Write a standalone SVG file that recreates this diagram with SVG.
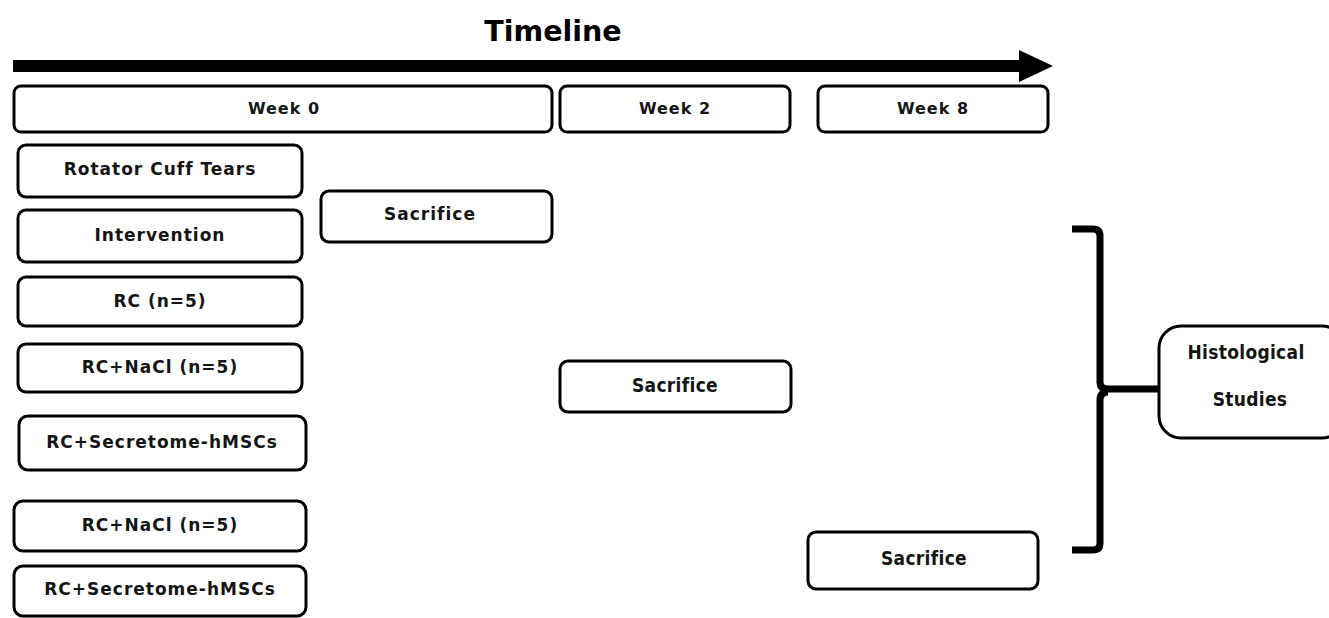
<svg xmlns="http://www.w3.org/2000/svg" width="1329" height="618" viewBox="0 0 1329 618">
<style>
.box{fill:#fff;stroke:#000;stroke-width:3}
.t{font-family:"DejaVu Sans","Liberation Sans",sans-serif;font-weight:bold;font-size:17px;letter-spacing:1px;text-anchor:middle;fill:#151515}
.w{font-family:"DejaVu Sans","Liberation Sans",sans-serif;font-weight:bold;font-size:16px;letter-spacing:1px;text-anchor:middle;fill:#151515}
.c{font-family:"DejaVu Sans Condensed","DejaVu Sans",sans-serif;font-weight:bold;font-size:19px;letter-spacing:0.3px;text-anchor:middle;fill:#151515}
</style>
<rect width="1329" height="618" fill="#fff"/>
<text x="553" y="41" font-family="DejaVu Sans, sans-serif" font-weight="bold" font-size="28.5" text-anchor="middle" fill="#000">Timeline</text>
<g id="connectors">
<rect x="13" y="60" width="1010" height="12" fill="#000"/>
<polygon points="1019,50 1053,66 1019,82" fill="#000"/>
<path d="M1072,229 H1093 Q1100,229 1100,236 V382 Q1100,389 1108,389 H1158 M1108,392 Q1100,392 1100,400 V543 Q1100,550 1093,550 H1072" fill="none" stroke="#000" stroke-width="7"/>
</g>
<g id="week0"><rect class="box" x="14" y="86" width="538" height="46" rx="7"/><text class="w" x="284" y="114">Week 0</text></g>
<g id="week2"><rect class="box" x="560" y="86" width="230" height="46" rx="7"/><text class="w" x="675" y="114">Week 2</text></g>
<g id="week8"><rect class="box" x="818" y="86" width="230" height="46" rx="7"/><text class="w" x="933" y="114">Week 8</text></g>
<g id="rct"><rect class="box" x="18" y="145" width="284" height="52" rx="8"/><text class="t" x="160" y="175">Rotator Cuff Tears</text></g>
<g id="intervention"><rect class="box" x="18" y="210" width="284" height="52" rx="8"/><text class="t" x="160" y="241">Intervention</text></g>
<g id="sacrifice0"><rect class="box" x="321" y="191" width="231" height="51" rx="8"/><text class="t" x="430" y="220">Sacrifice</text></g>
<g id="rc"><rect class="box" x="18" y="277" width="284" height="49" rx="8"/><text class="t" x="160" y="307">RC (n=5)</text></g>
<g id="rcnacl1"><rect class="box" x="18" y="344" width="284" height="48" rx="8"/><text class="t" x="160" y="373">RC+NaCl (n=5)</text></g>
<g id="rcsec1"><rect class="box" x="19" y="416" width="287" height="54" rx="9"/><text class="t" x="162" y="448">RC+Secretome-hMSCs</text></g>
<g id="rcnacl2"><rect class="box" x="14" y="501" width="292" height="50" rx="9"/><text class="t" x="160" y="531">RC+NaCl (n=5)</text></g>
<g id="rcsec2"><rect class="box" x="14" y="566" width="292" height="50" rx="9"/><text class="t" x="160" y="595">RC+Secretome-hMSCs</text></g>
<g id="sacrifice2"><rect class="box" x="560" y="361" width="231" height="51" rx="8"/><text class="c" x="675" y="392">Sacrifice</text></g>
<g id="sacrifice8"><rect class="box" x="808" y="532" width="230" height="57" rx="8"/><text class="c" x="924" y="565">Sacrifice</text></g>
<g id="histo"><rect class="box" x="1159" y="326" width="185" height="112" rx="22"/><text class="c" x="1246" y="359">Histological</text><text class="c" x="1250" y="406">Studies</text></g>
</svg>
